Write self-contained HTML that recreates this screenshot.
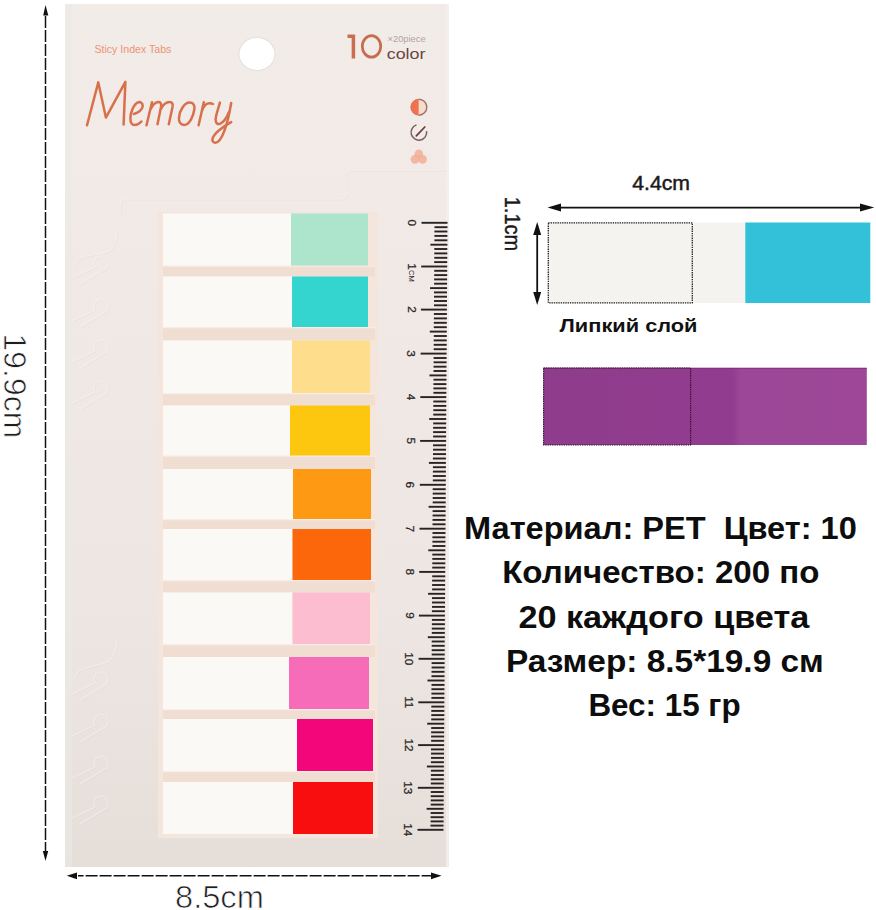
<!DOCTYPE html>
<html><head><meta charset="utf-8">
<style>
html,body{margin:0;padding:0;background:#fff;width:876px;height:910px;overflow:hidden;}
svg{display:block;position:absolute;left:0;top:0;}
text{font-family:"Liberation Sans",sans-serif;}
</style></head><body>
<svg width="876" height="910" viewBox="0 0 876 910">
<defs>
<linearGradient id="card" x1="0" y1="0" x2="0" y2="1">
<stop offset="0" stop-color="#f2ece9"/>
<stop offset="0.3" stop-color="#f1e9e5"/>
<stop offset="0.7" stop-color="#ede6e2"/>
<stop offset="1" stop-color="#e5ded9"/>
</linearGradient>
<filter id="blur1" x="-10%" y="-10%" width="120%" height="120%"><feGaussianBlur stdDeviation="0.7"/></filter>
</defs>
<rect x="0" y="0" width="876" height="910" fill="#ffffff"/>

<rect x="65" y="4" width="384" height="863" fill="url(#card)"/>
<rect x="446" y="4" width="3" height="863" fill="#f4f0ee" opacity="0.8"/>
<rect x="65" y="4" width="7" height="863" fill="#ebeae3" opacity="0.55"/>
<path d="M120.5 214 L120.5 203 Q120.5 199 125 199 L341 199 Q346 199 346 194 L346 175 Q346 170 351 170 L446 170" fill="none" stroke="#dcd3ce" stroke-width="1.3" opacity="0.25" transform="translate(0.9,0.9)" filter="url(#blur1)"/>
<path d="M120.5 214 L120.5 203 Q120.5 199 125 199 L341 199 Q346 199 346 194 L346 175 Q346 170 351 170 L446 170" fill="none" stroke="#f7f3f1" stroke-width="1.6" opacity="0.45" filter="url(#blur1)"/>
<path d="M116.8 420 L116.8 640" fill="none" stroke="#dcd3ce" stroke-width="1.3" opacity="0.25" transform="translate(0.9,0.9)" filter="url(#blur1)"/>
<path d="M116.8 420 L116.8 640" fill="none" stroke="#f7f3f1" stroke-width="1.6" opacity="0.45" filter="url(#blur1)"/>
<path d="M116.8 200 L116.8 232" fill="none" stroke="#dcd3ce" stroke-width="1.3" opacity="0.25" transform="translate(0.9,0.9)" filter="url(#blur1)"/>
<path d="M116.8 200 L116.8 232" fill="none" stroke="#f7f3f1" stroke-width="1.6" opacity="0.45" filter="url(#blur1)"/>
<path d="M117 834 L117 852" fill="none" stroke="#dcd3ce" stroke-width="1.3" opacity="0.25" transform="translate(0.9,0.9)" filter="url(#blur1)"/>
<path d="M117 834 L117 852" fill="none" stroke="#f7f3f1" stroke-width="1.6" opacity="0.45" filter="url(#blur1)"/>
<path d="M72 278 L95 267 A7 7 0 1 1 103 270 L80 284" fill="none" stroke="#dcd3ce" stroke-width="1.3" opacity="0.25" transform="translate(0.9,0.9)" filter="url(#blur1)"/>
<path d="M72 278 L95 267 A7 7 0 1 1 103 270 L80 284" fill="none" stroke="#f7f3f1" stroke-width="1.6" opacity="0.45" filter="url(#blur1)"/>
<path d="M72 321 L95 310 A7 7 0 1 1 103 313 L80 327" fill="none" stroke="#dcd3ce" stroke-width="1.3" opacity="0.25" transform="translate(0.9,0.9)" filter="url(#blur1)"/>
<path d="M72 321 L95 310 A7 7 0 1 1 103 313 L80 327" fill="none" stroke="#f7f3f1" stroke-width="1.6" opacity="0.45" filter="url(#blur1)"/>
<path d="M72 362 L95 351 A7 7 0 1 1 103 354 L80 368" fill="none" stroke="#dcd3ce" stroke-width="1.3" opacity="0.25" transform="translate(0.9,0.9)" filter="url(#blur1)"/>
<path d="M72 362 L95 351 A7 7 0 1 1 103 354 L80 368" fill="none" stroke="#f7f3f1" stroke-width="1.6" opacity="0.45" filter="url(#blur1)"/>
<path d="M72 403 L95 392 A7 7 0 1 1 103 395 L80 409" fill="none" stroke="#dcd3ce" stroke-width="1.3" opacity="0.25" transform="translate(0.9,0.9)" filter="url(#blur1)"/>
<path d="M72 403 L95 392 A7 7 0 1 1 103 395 L80 409" fill="none" stroke="#f7f3f1" stroke-width="1.6" opacity="0.45" filter="url(#blur1)"/>
<path d="M72 694 L95 683 A7 7 0 1 1 103 686 L80 700" fill="none" stroke="#dcd3ce" stroke-width="1.3" opacity="0.25" transform="translate(0.9,0.9)" filter="url(#blur1)"/>
<path d="M72 694 L95 683 A7 7 0 1 1 103 686 L80 700" fill="none" stroke="#f7f3f1" stroke-width="1.6" opacity="0.45" filter="url(#blur1)"/>
<path d="M72 736 L95 725 A7 7 0 1 1 103 728 L80 742" fill="none" stroke="#dcd3ce" stroke-width="1.3" opacity="0.25" transform="translate(0.9,0.9)" filter="url(#blur1)"/>
<path d="M72 736 L95 725 A7 7 0 1 1 103 728 L80 742" fill="none" stroke="#f7f3f1" stroke-width="1.6" opacity="0.45" filter="url(#blur1)"/>
<path d="M72 778 L95 767 A7 7 0 1 1 103 770 L80 784" fill="none" stroke="#dcd3ce" stroke-width="1.3" opacity="0.25" transform="translate(0.9,0.9)" filter="url(#blur1)"/>
<path d="M72 778 L95 767 A7 7 0 1 1 103 770 L80 784" fill="none" stroke="#f7f3f1" stroke-width="1.6" opacity="0.45" filter="url(#blur1)"/>
<path d="M72 818 L95 807 A7 7 0 1 1 103 810 L80 824" fill="none" stroke="#dcd3ce" stroke-width="1.3" opacity="0.25" transform="translate(0.9,0.9)" filter="url(#blur1)"/>
<path d="M72 818 L95 807 A7 7 0 1 1 103 810 L80 824" fill="none" stroke="#f7f3f1" stroke-width="1.6" opacity="0.45" filter="url(#blur1)"/>
<path d="M116.8 640 Q116.8 655 108 662 L86 668 Q76 670 74 680" fill="none" stroke="#dcd3ce" stroke-width="1.3" opacity="0.25" transform="translate(0.9,0.9)" filter="url(#blur1)"/>
<path d="M116.8 640 Q116.8 655 108 662 L86 668 Q76 670 74 680" fill="none" stroke="#f7f3f1" stroke-width="1.6" opacity="0.45" filter="url(#blur1)"/>
<path d="M116.8 232 Q116.8 245 108 252 L86 256 Q76 258 74 268" fill="none" stroke="#dcd3ce" stroke-width="1.3" opacity="0.25" transform="translate(0.9,0.9)" filter="url(#blur1)"/>
<path d="M116.8 232 Q116.8 245 108 252 L86 256 Q76 258 74 268" fill="none" stroke="#f7f3f1" stroke-width="1.6" opacity="0.45" filter="url(#blur1)"/>
<ellipse cx="257" cy="54" rx="18.5" ry="17" fill="#e6e0dd"/>
<ellipse cx="257" cy="54" rx="17.5" ry="16" fill="#ffffff"/>
<text x="94.4" y="52.6" font-size="11" fill="#ee9373" textLength="77" lengthAdjust="spacingAndGlyphs">Sticy Index Tabs</text>
<path d="M87 125.3 L98.3 82.4 L105.9 117.6 L125.4 81.9 L123.6 124.4" fill="none" stroke="#d8704c" stroke-width="2.5" stroke-linecap="round" stroke-linejoin="round"/>
<path d="M133.8 114 C137.5 113 142.5 110 142.7 106.2 C142.9 102.5 140 101.8 138.5 102.3 C134 103.5 130.5 112 130.4 118 C130.3 123 132 125 134.5 125 C137.5 125 140 123 141.4 121.5" fill="none" stroke="#d8704c" stroke-width="2.5" stroke-linecap="round" stroke-linejoin="round"/>
<path d="M146.5 125.2 L152 102.3 M150.2 110 C152.5 105 155.5 102 158.5 102 C161 102 161.5 104 161 107 L157.5 124.2 M161 109 C163 105 166.5 102 169.5 102 C172.5 102 173 104 172.5 107 L168.8 124.2" fill="none" stroke="#d8704c" stroke-width="2.5" stroke-linecap="round" stroke-linejoin="round"/>
<path d="M189.7 102.6 C193 102.6 195 105 194.4 109 C193.5 116 189.5 124.9 184.2 124.9 C180.5 124.9 178.5 122 179 117.5 C179.7 110 184.5 102.6 189.7 102.6 Z" fill="none" stroke="#d8704c" stroke-width="2.5" stroke-linecap="round" stroke-linejoin="round"/>
<path d="M198.6 125.2 L203.8 102.3 M201.8 111.5 C203.5 106 206 103.5 209 103.3 C210.5 103.2 212 103.5 213 104" fill="none" stroke="#d8704c" stroke-width="2.5" stroke-linecap="round" stroke-linejoin="round"/>
<path d="M219.9 102.6 C218.5 108 215.5 116 215.6 119.8 C215.7 123.5 218 124.6 220 123.8 C223 122.5 227 117 229 112" fill="none" stroke="#d8704c" stroke-width="2.5" stroke-linecap="round" stroke-linejoin="round"/>
<path d="M231.2 103 C229.5 113 227 124 224.3 131 C222 137 219 142.7 215.5 142.7 C213 142.7 212 141 212.5 139 C213.5 134 222 127 231.2 122.1" fill="none" stroke="#d8704c" stroke-width="2.5" stroke-linecap="round" stroke-linejoin="round"/>
<path d="M347.5 36.2 L353.4 36.2 M353.4 34.5 L353.4 58.5" fill="none" stroke="#cb6e50" stroke-width="3.5"/>
<ellipse cx="371.5" cy="46.4" rx="9.2" ry="10.7" fill="none" stroke="#c86c4f" stroke-width="2.8"/>
<text x="387.6" y="42" font-size="8.5" fill="#b4a39b" textLength="38" lengthAdjust="spacingAndGlyphs">×20piece</text>
<text x="386.7" y="59.4" font-size="14.5" fill="#6b4642" textLength="38.8" lengthAdjust="spacingAndGlyphs">color</text>
<path d="M418.8 99 A8.2 8.2 0 0 0 418.8 115.4 Z" fill="#f07350"/>
<path d="M418.8 99 A8.2 8.2 0 0 1 418.8 115.4 Z" fill="#f6dccc"/>
<path d="M418.8 99.2 A8 8 0 0 1 418.8 115.2" fill="none" stroke="#8d5e54" stroke-width="1.4" opacity="0.85"/>
<path d="M418.8 99.2 A8 8 0 0 0 418.8 115.2" fill="none" stroke="#d9684a" stroke-width="1" opacity="0.6"/>
<path d="M416.5 124.9 A7.8 7.8 0 1 0 426.6 131.2" fill="none" stroke="#7a615c" stroke-width="1.5"/>
<path d="M416.3 135.8 L424.8 127" stroke="#6b3b39" stroke-width="1.7" stroke-linecap="round"/>
<g opacity="0.85"><circle cx="418.8" cy="154" r="4.4" fill="#f4a086" opacity="0.8"/><circle cx="415" cy="159.3" r="4.4" fill="#f4a086" opacity="0.8"/><circle cx="422.6" cy="159.3" r="4.4" fill="#f4a086" opacity="0.8"/></g>
<rect x="158" y="212" width="220" height="626" fill="#f4e6dd"/>
<rect x="163" y="265.5" width="212" height="11.0" fill="#f1ded3"/>
<rect x="163" y="265.5" width="212" height="1.2" fill="#f9eee6"/>
<rect x="163" y="327" width="212" height="13.5" fill="#f1ded3"/>
<rect x="163" y="327" width="212" height="1.2" fill="#f9eee6"/>
<rect x="163" y="393" width="212" height="12.5" fill="#f1ded3"/>
<rect x="163" y="393" width="212" height="1.2" fill="#f9eee6"/>
<rect x="163" y="455.5" width="212" height="13.5" fill="#f1ded3"/>
<rect x="163" y="455.5" width="212" height="1.2" fill="#f9eee6"/>
<rect x="163" y="519" width="212" height="10" fill="#f1ded3"/>
<rect x="163" y="519" width="212" height="1.2" fill="#f9eee6"/>
<rect x="163" y="580" width="212" height="12.5" fill="#f1ded3"/>
<rect x="163" y="580" width="212" height="1.2" fill="#f9eee6"/>
<rect x="163" y="644" width="212" height="13" fill="#f1ded3"/>
<rect x="163" y="644" width="212" height="1.2" fill="#f9eee6"/>
<rect x="163" y="709" width="212" height="10" fill="#f1ded3"/>
<rect x="163" y="709" width="212" height="1.2" fill="#f9eee6"/>
<rect x="163" y="771" width="212" height="11" fill="#f1ded3"/>
<rect x="163" y="771" width="212" height="1.2" fill="#f9eee6"/>
<rect x="163" y="213.5" width="128" height="52.0" fill="#fbf9f5"/>
<rect x="291" y="213.5" width="77" height="52.0" fill="#ace5cc"/>
<rect x="163" y="276.5" width="129" height="50.5" fill="#fbf9f5"/>
<rect x="292" y="276.5" width="76" height="50.5" fill="#33d5ce"/>
<rect x="163" y="340.5" width="129" height="52.5" fill="#fbf9f5"/>
<rect x="292" y="340.5" width="78" height="52.5" fill="#fede8c"/>
<rect x="163" y="405.5" width="127" height="50.0" fill="#fbf9f5"/>
<rect x="290" y="405.5" width="80" height="50.0" fill="#fec70f"/>
<rect x="163" y="469" width="130" height="50" fill="#fbf9f5"/>
<rect x="293" y="469" width="78" height="50" fill="#fe9914"/>
<rect x="163" y="529" width="129.5" height="51" fill="#fbf9f5"/>
<rect x="292.5" y="529" width="78.5" height="51" fill="#fc670c"/>
<rect x="163" y="592.5" width="129.5" height="51.5" fill="#fbf9f5"/>
<rect x="292.5" y="592.5" width="77.5" height="51.5" fill="#fdbdd0"/>
<rect x="163" y="657" width="126" height="52" fill="#fbf9f5"/>
<rect x="289" y="657" width="80" height="52" fill="#f76cb9"/>
<rect x="163" y="719" width="134" height="52" fill="#fbf9f5"/>
<rect x="297" y="719" width="76" height="52" fill="#f3067a"/>
<rect x="163" y="782" width="130" height="52" fill="#fbf9f5"/>
<rect x="293" y="782" width="80" height="52" fill="#f90e10"/>
<line x1="421.5" y1="222.8" x2="447.5" y2="222.8" stroke="#272223" stroke-width="1.9"/>
<line x1="434.5" y1="227.2" x2="447.5" y2="227.2" stroke="#272223" stroke-width="1.9"/>
<line x1="434.4" y1="231.5" x2="447.4" y2="231.5" stroke="#272223" stroke-width="1.9"/>
<line x1="434.4" y1="235.9" x2="447.4" y2="235.9" stroke="#272223" stroke-width="1.9"/>
<line x1="434.4" y1="240.3" x2="447.4" y2="240.3" stroke="#272223" stroke-width="1.9"/>
<line x1="430.4" y1="244.7" x2="447.4" y2="244.7" stroke="#272223" stroke-width="1.9"/>
<line x1="434.3" y1="249.0" x2="447.3" y2="249.0" stroke="#272223" stroke-width="1.9"/>
<line x1="434.3" y1="253.4" x2="447.3" y2="253.4" stroke="#272223" stroke-width="1.9"/>
<line x1="434.3" y1="257.8" x2="447.3" y2="257.8" stroke="#272223" stroke-width="1.9"/>
<line x1="434.2" y1="262.1" x2="447.2" y2="262.1" stroke="#272223" stroke-width="1.9"/>
<line x1="421.2" y1="266.5" x2="447.2" y2="266.5" stroke="#272223" stroke-width="1.9"/>
<line x1="434.2" y1="270.8" x2="447.2" y2="270.8" stroke="#272223" stroke-width="1.9"/>
<line x1="434.2" y1="275.1" x2="447.2" y2="275.1" stroke="#272223" stroke-width="1.9"/>
<line x1="434.1" y1="279.4" x2="447.1" y2="279.4" stroke="#272223" stroke-width="1.9"/>
<line x1="434.1" y1="283.7" x2="447.1" y2="283.7" stroke="#272223" stroke-width="1.9"/>
<line x1="430.1" y1="288.1" x2="447.1" y2="288.1" stroke="#272223" stroke-width="1.9"/>
<line x1="434.0" y1="292.4" x2="447.0" y2="292.4" stroke="#272223" stroke-width="1.9"/>
<line x1="434.0" y1="296.7" x2="447.0" y2="296.7" stroke="#272223" stroke-width="1.9"/>
<line x1="434.0" y1="301.0" x2="447.0" y2="301.0" stroke="#272223" stroke-width="1.9"/>
<line x1="434.0" y1="305.3" x2="447.0" y2="305.3" stroke="#272223" stroke-width="1.9"/>
<line x1="420.9" y1="309.6" x2="446.9" y2="309.6" stroke="#272223" stroke-width="1.9"/>
<line x1="433.9" y1="314.0" x2="446.9" y2="314.0" stroke="#272223" stroke-width="1.9"/>
<line x1="433.9" y1="318.4" x2="446.9" y2="318.4" stroke="#272223" stroke-width="1.9"/>
<line x1="433.8" y1="322.8" x2="446.8" y2="322.8" stroke="#272223" stroke-width="1.9"/>
<line x1="433.8" y1="327.2" x2="446.8" y2="327.2" stroke="#272223" stroke-width="1.9"/>
<line x1="429.8" y1="331.6" x2="446.8" y2="331.6" stroke="#272223" stroke-width="1.9"/>
<line x1="433.8" y1="336.0" x2="446.8" y2="336.0" stroke="#272223" stroke-width="1.9"/>
<line x1="433.7" y1="340.4" x2="446.7" y2="340.4" stroke="#272223" stroke-width="1.9"/>
<line x1="433.7" y1="344.8" x2="446.7" y2="344.8" stroke="#272223" stroke-width="1.9"/>
<line x1="433.7" y1="349.2" x2="446.7" y2="349.2" stroke="#272223" stroke-width="1.9"/>
<line x1="420.6" y1="353.6" x2="446.6" y2="353.6" stroke="#272223" stroke-width="1.9"/>
<line x1="433.6" y1="358.0" x2="446.6" y2="358.0" stroke="#272223" stroke-width="1.9"/>
<line x1="433.6" y1="362.3" x2="446.6" y2="362.3" stroke="#272223" stroke-width="1.9"/>
<line x1="433.5" y1="366.7" x2="446.5" y2="366.7" stroke="#272223" stroke-width="1.9"/>
<line x1="433.5" y1="371.0" x2="446.5" y2="371.0" stroke="#272223" stroke-width="1.9"/>
<line x1="429.5" y1="375.4" x2="446.5" y2="375.4" stroke="#272223" stroke-width="1.9"/>
<line x1="433.5" y1="379.7" x2="446.5" y2="379.7" stroke="#272223" stroke-width="1.9"/>
<line x1="433.4" y1="384.1" x2="446.4" y2="384.1" stroke="#272223" stroke-width="1.9"/>
<line x1="433.4" y1="388.4" x2="446.4" y2="388.4" stroke="#272223" stroke-width="1.9"/>
<line x1="433.4" y1="392.8" x2="446.4" y2="392.8" stroke="#272223" stroke-width="1.9"/>
<line x1="420.3" y1="397.1" x2="446.3" y2="397.1" stroke="#272223" stroke-width="1.9"/>
<line x1="433.3" y1="401.5" x2="446.3" y2="401.5" stroke="#272223" stroke-width="1.9"/>
<line x1="433.3" y1="405.9" x2="446.3" y2="405.9" stroke="#272223" stroke-width="1.9"/>
<line x1="433.3" y1="410.2" x2="446.3" y2="410.2" stroke="#272223" stroke-width="1.9"/>
<line x1="433.2" y1="414.6" x2="446.2" y2="414.6" stroke="#272223" stroke-width="1.9"/>
<line x1="429.2" y1="419.0" x2="446.2" y2="419.0" stroke="#272223" stroke-width="1.9"/>
<line x1="433.2" y1="423.4" x2="446.2" y2="423.4" stroke="#272223" stroke-width="1.9"/>
<line x1="433.1" y1="427.8" x2="446.1" y2="427.8" stroke="#272223" stroke-width="1.9"/>
<line x1="433.1" y1="432.1" x2="446.1" y2="432.1" stroke="#272223" stroke-width="1.9"/>
<line x1="433.1" y1="436.5" x2="446.1" y2="436.5" stroke="#272223" stroke-width="1.9"/>
<line x1="420.1" y1="440.9" x2="446.1" y2="440.9" stroke="#272223" stroke-width="1.9"/>
<line x1="433.0" y1="445.3" x2="446.0" y2="445.3" stroke="#272223" stroke-width="1.9"/>
<line x1="433.0" y1="449.7" x2="446.0" y2="449.7" stroke="#272223" stroke-width="1.9"/>
<line x1="433.0" y1="454.1" x2="446.0" y2="454.1" stroke="#272223" stroke-width="1.9"/>
<line x1="432.9" y1="458.5" x2="445.9" y2="458.5" stroke="#272223" stroke-width="1.9"/>
<line x1="428.9" y1="462.9" x2="445.9" y2="462.9" stroke="#272223" stroke-width="1.9"/>
<line x1="432.9" y1="467.2" x2="445.9" y2="467.2" stroke="#272223" stroke-width="1.9"/>
<line x1="432.9" y1="471.6" x2="445.9" y2="471.6" stroke="#272223" stroke-width="1.9"/>
<line x1="432.8" y1="476.0" x2="445.8" y2="476.0" stroke="#272223" stroke-width="1.9"/>
<line x1="432.8" y1="480.4" x2="445.8" y2="480.4" stroke="#272223" stroke-width="1.9"/>
<line x1="419.8" y1="484.8" x2="445.8" y2="484.8" stroke="#272223" stroke-width="1.9"/>
<line x1="432.7" y1="489.2" x2="445.7" y2="489.2" stroke="#272223" stroke-width="1.9"/>
<line x1="432.7" y1="493.6" x2="445.7" y2="493.6" stroke="#272223" stroke-width="1.9"/>
<line x1="432.7" y1="498.0" x2="445.7" y2="498.0" stroke="#272223" stroke-width="1.9"/>
<line x1="432.7" y1="502.4" x2="445.7" y2="502.4" stroke="#272223" stroke-width="1.9"/>
<line x1="428.6" y1="506.8" x2="445.6" y2="506.8" stroke="#272223" stroke-width="1.9"/>
<line x1="432.6" y1="511.1" x2="445.6" y2="511.1" stroke="#272223" stroke-width="1.9"/>
<line x1="432.6" y1="515.5" x2="445.6" y2="515.5" stroke="#272223" stroke-width="1.9"/>
<line x1="432.5" y1="519.9" x2="445.5" y2="519.9" stroke="#272223" stroke-width="1.9"/>
<line x1="432.5" y1="524.3" x2="445.5" y2="524.3" stroke="#272223" stroke-width="1.9"/>
<line x1="419.5" y1="528.7" x2="445.5" y2="528.7" stroke="#272223" stroke-width="1.9"/>
<line x1="432.5" y1="533.0" x2="445.5" y2="533.0" stroke="#272223" stroke-width="1.9"/>
<line x1="432.4" y1="537.3" x2="445.4" y2="537.3" stroke="#272223" stroke-width="1.9"/>
<line x1="432.4" y1="541.7" x2="445.4" y2="541.7" stroke="#272223" stroke-width="1.9"/>
<line x1="432.4" y1="546.0" x2="445.4" y2="546.0" stroke="#272223" stroke-width="1.9"/>
<line x1="428.3" y1="550.3" x2="445.3" y2="550.3" stroke="#272223" stroke-width="1.9"/>
<line x1="432.3" y1="554.6" x2="445.3" y2="554.6" stroke="#272223" stroke-width="1.9"/>
<line x1="432.3" y1="558.9" x2="445.3" y2="558.9" stroke="#272223" stroke-width="1.9"/>
<line x1="432.3" y1="563.3" x2="445.3" y2="563.3" stroke="#272223" stroke-width="1.9"/>
<line x1="432.2" y1="567.6" x2="445.2" y2="567.6" stroke="#272223" stroke-width="1.9"/>
<line x1="419.2" y1="571.9" x2="445.2" y2="571.9" stroke="#272223" stroke-width="1.9"/>
<line x1="432.2" y1="576.3" x2="445.2" y2="576.3" stroke="#272223" stroke-width="1.9"/>
<line x1="432.1" y1="580.6" x2="445.1" y2="580.6" stroke="#272223" stroke-width="1.9"/>
<line x1="432.1" y1="585.0" x2="445.1" y2="585.0" stroke="#272223" stroke-width="1.9"/>
<line x1="432.1" y1="589.4" x2="445.1" y2="589.4" stroke="#272223" stroke-width="1.9"/>
<line x1="428.1" y1="593.8" x2="445.1" y2="593.8" stroke="#272223" stroke-width="1.9"/>
<line x1="432.0" y1="598.1" x2="445.0" y2="598.1" stroke="#272223" stroke-width="1.9"/>
<line x1="432.0" y1="602.5" x2="445.0" y2="602.5" stroke="#272223" stroke-width="1.9"/>
<line x1="432.0" y1="606.9" x2="445.0" y2="606.9" stroke="#272223" stroke-width="1.9"/>
<line x1="431.9" y1="611.2" x2="444.9" y2="611.2" stroke="#272223" stroke-width="1.9"/>
<line x1="418.9" y1="615.6" x2="444.9" y2="615.6" stroke="#272223" stroke-width="1.9"/>
<line x1="431.9" y1="619.9" x2="444.9" y2="619.9" stroke="#272223" stroke-width="1.9"/>
<line x1="431.9" y1="624.2" x2="444.9" y2="624.2" stroke="#272223" stroke-width="1.9"/>
<line x1="431.8" y1="628.6" x2="444.8" y2="628.6" stroke="#272223" stroke-width="1.9"/>
<line x1="431.8" y1="632.9" x2="444.8" y2="632.9" stroke="#272223" stroke-width="1.9"/>
<line x1="427.8" y1="637.2" x2="444.8" y2="637.2" stroke="#272223" stroke-width="1.9"/>
<line x1="431.7" y1="641.5" x2="444.7" y2="641.5" stroke="#272223" stroke-width="1.9"/>
<line x1="431.7" y1="645.8" x2="444.7" y2="645.8" stroke="#272223" stroke-width="1.9"/>
<line x1="431.7" y1="650.2" x2="444.7" y2="650.2" stroke="#272223" stroke-width="1.9"/>
<line x1="431.7" y1="654.5" x2="444.7" y2="654.5" stroke="#272223" stroke-width="1.9"/>
<line x1="418.6" y1="658.8" x2="444.6" y2="658.8" stroke="#272223" stroke-width="1.9"/>
<line x1="431.6" y1="663.1" x2="444.6" y2="663.1" stroke="#272223" stroke-width="1.9"/>
<line x1="431.6" y1="667.5" x2="444.6" y2="667.5" stroke="#272223" stroke-width="1.9"/>
<line x1="431.5" y1="671.8" x2="444.5" y2="671.8" stroke="#272223" stroke-width="1.9"/>
<line x1="431.5" y1="676.2" x2="444.5" y2="676.2" stroke="#272223" stroke-width="1.9"/>
<line x1="427.5" y1="680.5" x2="444.5" y2="680.5" stroke="#272223" stroke-width="1.9"/>
<line x1="431.5" y1="684.9" x2="444.5" y2="684.9" stroke="#272223" stroke-width="1.9"/>
<line x1="431.4" y1="689.2" x2="444.4" y2="689.2" stroke="#272223" stroke-width="1.9"/>
<line x1="431.4" y1="693.6" x2="444.4" y2="693.6" stroke="#272223" stroke-width="1.9"/>
<line x1="431.4" y1="697.9" x2="444.4" y2="697.9" stroke="#272223" stroke-width="1.9"/>
<line x1="418.3" y1="702.3" x2="444.3" y2="702.3" stroke="#272223" stroke-width="1.9"/>
<line x1="431.3" y1="706.6" x2="444.3" y2="706.6" stroke="#272223" stroke-width="1.9"/>
<line x1="431.3" y1="710.9" x2="444.3" y2="710.9" stroke="#272223" stroke-width="1.9"/>
<line x1="431.3" y1="715.1" x2="444.3" y2="715.1" stroke="#272223" stroke-width="1.9"/>
<line x1="431.2" y1="719.4" x2="444.2" y2="719.4" stroke="#272223" stroke-width="1.9"/>
<line x1="427.2" y1="723.7" x2="444.2" y2="723.7" stroke="#272223" stroke-width="1.9"/>
<line x1="431.2" y1="728.0" x2="444.2" y2="728.0" stroke="#272223" stroke-width="1.9"/>
<line x1="431.1" y1="732.3" x2="444.1" y2="732.3" stroke="#272223" stroke-width="1.9"/>
<line x1="431.1" y1="736.5" x2="444.1" y2="736.5" stroke="#272223" stroke-width="1.9"/>
<line x1="431.1" y1="740.8" x2="444.1" y2="740.8" stroke="#272223" stroke-width="1.9"/>
<line x1="418.1" y1="745.1" x2="444.1" y2="745.1" stroke="#272223" stroke-width="1.9"/>
<line x1="431.0" y1="749.4" x2="444.0" y2="749.4" stroke="#272223" stroke-width="1.9"/>
<line x1="431.0" y1="753.6" x2="444.0" y2="753.6" stroke="#272223" stroke-width="1.9"/>
<line x1="431.0" y1="757.9" x2="444.0" y2="757.9" stroke="#272223" stroke-width="1.9"/>
<line x1="430.9" y1="762.2" x2="443.9" y2="762.2" stroke="#272223" stroke-width="1.9"/>
<line x1="426.9" y1="766.5" x2="443.9" y2="766.5" stroke="#272223" stroke-width="1.9"/>
<line x1="430.9" y1="770.7" x2="443.9" y2="770.7" stroke="#272223" stroke-width="1.9"/>
<line x1="430.9" y1="775.0" x2="443.9" y2="775.0" stroke="#272223" stroke-width="1.9"/>
<line x1="430.8" y1="779.3" x2="443.8" y2="779.3" stroke="#272223" stroke-width="1.9"/>
<line x1="430.8" y1="783.5" x2="443.8" y2="783.5" stroke="#272223" stroke-width="1.9"/>
<line x1="417.8" y1="787.8" x2="443.8" y2="787.8" stroke="#272223" stroke-width="1.9"/>
<line x1="430.8" y1="792.0" x2="443.8" y2="792.0" stroke="#272223" stroke-width="1.9"/>
<line x1="430.7" y1="796.2" x2="443.7" y2="796.2" stroke="#272223" stroke-width="1.9"/>
<line x1="430.7" y1="800.4" x2="443.7" y2="800.4" stroke="#272223" stroke-width="1.9"/>
<line x1="430.7" y1="804.6" x2="443.7" y2="804.6" stroke="#272223" stroke-width="1.9"/>
<line x1="426.6" y1="808.8" x2="443.6" y2="808.8" stroke="#272223" stroke-width="1.9"/>
<line x1="430.6" y1="813.0" x2="443.6" y2="813.0" stroke="#272223" stroke-width="1.9"/>
<line x1="430.6" y1="817.2" x2="443.6" y2="817.2" stroke="#272223" stroke-width="1.9"/>
<line x1="430.6" y1="821.4" x2="443.6" y2="821.4" stroke="#272223" stroke-width="1.9"/>
<line x1="430.5" y1="825.6" x2="443.5" y2="825.6" stroke="#272223" stroke-width="1.9"/>
<line x1="417.5" y1="829.8" x2="443.5" y2="829.8" stroke="#272223" stroke-width="1.9"/>
<text transform="translate(408.1,222.8) rotate(90)" x="0" y="0" font-size="11.8" fill="#2a2424" stroke="#2a2424" stroke-width="0.25" text-anchor="middle" font-family="Liberation Serif">0</text>
<text transform="translate(407.8,266.5) rotate(90)" x="0" y="0" font-size="11.8" fill="#2a2424" stroke="#2a2424" stroke-width="0.25" text-anchor="middle" font-family="Liberation Serif">1</text>
<text transform="translate(408.6,270.0) rotate(90)" x="0" y="0" font-size="7.5" fill="#2e2828" font-family="Liberation Serif">CM</text>
<text transform="translate(407.5,309.6) rotate(90)" x="0" y="0" font-size="11.8" fill="#2a2424" stroke="#2a2424" stroke-width="0.25" text-anchor="middle" font-family="Liberation Serif">2</text>
<text transform="translate(407.2,353.6) rotate(90)" x="0" y="0" font-size="11.8" fill="#2a2424" stroke="#2a2424" stroke-width="0.25" text-anchor="middle" font-family="Liberation Serif">3</text>
<text transform="translate(406.9,397.1) rotate(90)" x="0" y="0" font-size="11.8" fill="#2a2424" stroke="#2a2424" stroke-width="0.25" text-anchor="middle" font-family="Liberation Serif">4</text>
<text transform="translate(406.7,440.9) rotate(90)" x="0" y="0" font-size="11.8" fill="#2a2424" stroke="#2a2424" stroke-width="0.25" text-anchor="middle" font-family="Liberation Serif">5</text>
<text transform="translate(406.4,484.8) rotate(90)" x="0" y="0" font-size="11.8" fill="#2a2424" stroke="#2a2424" stroke-width="0.25" text-anchor="middle" font-family="Liberation Serif">6</text>
<text transform="translate(406.1,528.7) rotate(90)" x="0" y="0" font-size="11.8" fill="#2a2424" stroke="#2a2424" stroke-width="0.25" text-anchor="middle" font-family="Liberation Serif">7</text>
<text transform="translate(405.8,571.9) rotate(90)" x="0" y="0" font-size="11.8" fill="#2a2424" stroke="#2a2424" stroke-width="0.25" text-anchor="middle" font-family="Liberation Serif">8</text>
<text transform="translate(405.5,615.6) rotate(90)" x="0" y="0" font-size="11.8" fill="#2a2424" stroke="#2a2424" stroke-width="0.25" text-anchor="middle" font-family="Liberation Serif">9</text>
<text transform="translate(405.2,658.8) rotate(90)" x="0" y="0" font-size="11.8" fill="#2a2424" stroke="#2a2424" stroke-width="0.25" text-anchor="middle" font-family="Liberation Serif">10</text>
<text transform="translate(404.9,702.3) rotate(90)" x="0" y="0" font-size="11.8" fill="#2a2424" stroke="#2a2424" stroke-width="0.25" text-anchor="middle" font-family="Liberation Serif">11</text>
<text transform="translate(404.7,745.1) rotate(90)" x="0" y="0" font-size="11.8" fill="#2a2424" stroke="#2a2424" stroke-width="0.25" text-anchor="middle" font-family="Liberation Serif">12</text>
<text transform="translate(404.4,787.8) rotate(90)" x="0" y="0" font-size="11.8" fill="#2a2424" stroke="#2a2424" stroke-width="0.25" text-anchor="middle" font-family="Liberation Serif">13</text>
<text transform="translate(404.1,829.8) rotate(90)" x="0" y="0" font-size="11.8" fill="#2a2424" stroke="#2a2424" stroke-width="0.25" text-anchor="middle" font-family="Liberation Serif">14</text>
<line x1="45.5" y1="16" x2="45.5" y2="851" stroke="#111" stroke-width="1.5" stroke-dasharray="12 2"/>
<path d="M45.5 4.9 L43.2 15.5 L48.3 15.5 Z" fill="#111"/>
<path d="M45.5 861 L42.8 851 L48.2 851 Z" fill="#111"/>
<text transform="translate(3.7,385.9) rotate(90)" x="0" y="0" font-size="31" fill="#1e1e1e" stroke="#ffffff" stroke-width="0.7" text-anchor="middle" textLength="104.7" lengthAdjust="spacingAndGlyphs">19.9cm</text>
<line x1="78" y1="875.8" x2="431" y2="875.8" stroke="#111" stroke-width="1.5" stroke-dasharray="12 2" stroke-dashoffset="6.4"/>
<path d="M66.8 875.8 L77 872.4 L77 879.2 Z" fill="#111"/>
<path d="M441.6 875.8 L431 872.4 L431 879.2 Z" fill="#111"/>
<text x="175" y="908" font-size="30.5" fill="#1e1e1e" stroke="#ffffff" stroke-width="0.7" textLength="88.8" lengthAdjust="spacingAndGlyphs">8.5cm</text>
<text x="632.2" y="190.2" font-size="19.7" fill="#1a1a1a" stroke="#1a1a1a" stroke-width="0.45" textLength="57.8" lengthAdjust="spacingAndGlyphs">4.4cm</text>
<line x1="556" y1="207.6" x2="862" y2="207.6" stroke="#111" stroke-width="1.8"/>
<path d="M547.5 207.6 L561 203.6 L561 211.6 Z" fill="#111"/>
<path d="M874.2 207.6 L860 203.6 L860 211.6 Z" fill="#111"/>
<rect x="548" y="222.5" width="197.5" height="80.5" fill="#f4f3ef"/>
<rect x="745.3" y="222.5" width="125" height="80.5" fill="#33c1d9"/>
<rect x="548.3" y="222.8" width="144" height="80" fill="none" stroke="#222" stroke-width="1.3" stroke-dasharray="1.4 0.9"/>
<line x1="537.2" y1="232" x2="537.2" y2="295" stroke="#111" stroke-width="1.8"/>
<path d="M537.2 222 L533.2 235 L541.2 235 Z" fill="#111"/>
<path d="M537.2 305 L533.2 292 L541.2 292 Z" fill="#111"/>
<text transform="translate(505.3,223.95) rotate(90)" x="0" y="0" font-size="22" fill="#1a1a1a" stroke="#1a1a1a" stroke-width="0.45" text-anchor="middle" textLength="54.4" lengthAdjust="spacingAndGlyphs">1.1cm</text>
<text x="559.6" y="332.1" font-size="18.8" font-weight="bold" fill="#111" textLength="137.9" lengthAdjust="spacingAndGlyphs">Липкий слой</text>
<defs><linearGradient id="pg" x1="0" y1="0" x2="1" y2="0"><stop offset="0" stop-color="#903c8d"/><stop offset="0.585" stop-color="#913c8e"/><stop offset="0.61" stop-color="#9c4797"/><stop offset="1" stop-color="#9e4798"/></linearGradient></defs>
<rect x="543.4" y="367.8" width="323.4" height="77.2" fill="url(#pg)"/>
<rect x="543.4" y="367.8" width="323.4" height="1.2" fill="#7f2c7b" opacity="0.7"/>
<rect x="543.6" y="368" width="147" height="77" fill="none" stroke="#2a1428" stroke-width="1.1" stroke-dasharray="1.4 0.9"/>
<text x="464.0" y="538.6" font-size="30.5" font-weight="bold" fill="#0d0d0d" textLength="392.8" lengthAdjust="spacingAndGlyphs" xml:space="preserve">Материал: PET  Цвет: 10</text>
<text x="502.2" y="582.9" font-size="30.5" font-weight="bold" fill="#0d0d0d" textLength="317.2" lengthAdjust="spacingAndGlyphs" xml:space="preserve">Количество: 200 по</text>
<text x="518.4" y="627.9" font-size="30.5" font-weight="bold" fill="#0d0d0d" textLength="290.8" lengthAdjust="spacingAndGlyphs" xml:space="preserve">20 каждого цвета</text>
<text x="506.0" y="672.2" font-size="30.5" font-weight="bold" fill="#0d0d0d" textLength="317.8" lengthAdjust="spacingAndGlyphs" xml:space="preserve">Размер: 8.5*19.9 см</text>
<text x="588.4" y="716.3" font-size="30.5" font-weight="bold" fill="#0d0d0d" textLength="152.2" lengthAdjust="spacingAndGlyphs" xml:space="preserve">Вес: 15 гр</text>
</svg></body></html>
